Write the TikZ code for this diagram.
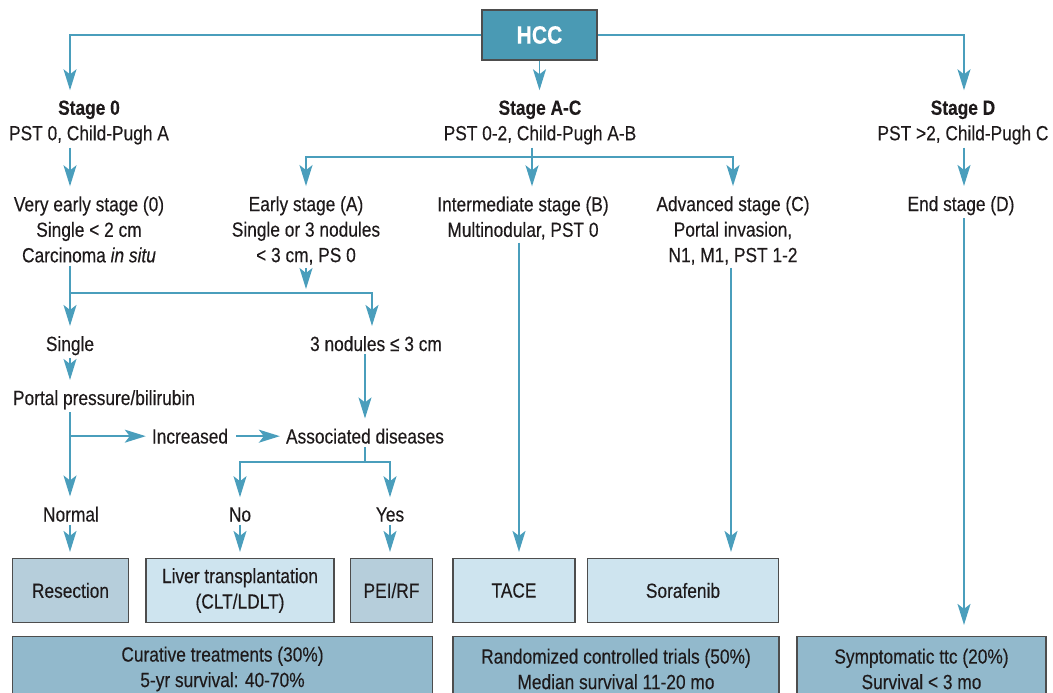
\documentclass[tikz,border=0pt]{standalone}
\usepackage{fontspec}
\setmainfont{Liberation Sans}[FakeStretch=0.845,FakeBold=0.25]
\usetikzlibrary{arrows.meta,calc}
\definecolor{arrc}{HTML}{4A9EBC}
\definecolor{hccfill}{HTML}{4A9AB4}
\definecolor{midfill}{HTML}{B6CEDB}
\definecolor{lightfill}{HTML}{CEE4EF}
\definecolor{botfill}{HTML}{92B9CC}
\definecolor{bord}{HTML}{4D4D4D}
\definecolor{txtc}{HTML}{1E1A1B}
\begin{document}
\begin{tikzpicture}[x=1pt,y=-1pt,
  font=\fontsize{20.5}{25.5}\selectfont,
  txt/.style={text=txtc, align=center, inner sep=3pt},
  tbox/.style={draw=bord, line width=1.2pt, text=txtc, align=center, inner sep=0pt, minimum height=64pt},
  conn/.style={draw=arrc, line width=1.6pt},
  arr/.style={conn, -{Stealth[length=21pt,width=13pt,inset=5pt]}},
  arrt/.style={arr, shorten >=7pt},
  arrb/.style={arr, shorten >=6pt},
]
\useasboundingbox (0,0) rectangle (1053,693);

% top node
\node[draw=bord, fill=hccfill, line width=1.2pt, minimum width=115pt, minimum height=50pt,
      text=white, font=\fontsize{25}{27}\selectfont\bfseries] (hcc) at (539.5,35) {HCC};

% stages
\node[txt] (stage0) at (89,122.5) {\textbf{Stage 0}\\PST 0, Child-Pugh A};
\node[txt] (stageAC) at (540,122.5) {\textbf{Stage A-C}\\PST 0-2, Child-Pugh A-B};
\node[txt] (stageD) at (963,122.5) {\textbf{Stage D}\\PST >2, Child-Pugh C};

\node[txt] (vearly) at (89,229.5) {Very early stage (0)\\Single < 2 cm\\Carcinoma \textit{in situ}};
\node[txt] (early) at (306,230.5) {Early stage (A)\\Single or 3 nodules\\< 3 cm, PS 0};
\node[txt] (inter) at (523,218) {Intermediate stage (B)\\Multinodular, PST 0};
\node[txt] (adv) at (733,230.5) {Advanced stage (C)\\Portal invasion,\\N1, M1, PST 1-2};
\node[txt, anchor=base] (endD) at (961,211) {End stage (D)};

\node[txt, anchor=base] (single) at (70,351) {Single};
\node[txt, anchor=base] (three) at (376,351) {3 nodules ≤ 3 cm};
\node[txt, anchor=base] (portal) at (104,405) {Portal pressure/bilirubin};
\node[txt, anchor=base] (incr) at (190,443.5) {Increased};
\node[txt, anchor=base] (assoc) at (365,443.5) {Associated diseases};
\node[txt, anchor=base] (normal) at (71,521.5) {Normal};
\node[txt, anchor=base] (no) at (240,521.5) {No};
\node[txt, anchor=base] (yes) at (390,521.5) {Yes};

% treatment boxes
\node[tbox, fill=midfill, minimum width=116pt] (res) at (70.5,590.5) {Resection};
\node[tbox, fill=lightfill, minimum width=188pt] (liver) at (240,590.5) {Liver transplantation\\(CLT/LDLT)};
\node[tbox, fill=midfill, minimum width=82pt] (pei) at (391.5,590.5) {PEI/RF};
\node[tbox, fill=lightfill, minimum width=122pt] (tace) at (514,590.5) {TACE};
\node[tbox, fill=lightfill, minimum width=191.5pt] (sora) at (683,590.5) {Sorafenib};

\node[tbox, fill=botfill, minimum width=420pt, minimum height=65pt] (cur) at (222.5,669) {Curative treatments (30\%)\\5-yr survival: 40-70\%};
\node[tbox, fill=botfill, minimum width=326pt, minimum height=65pt] (rct) at (616,669) {Randomized controlled trials (50\%)\\Median survival 11-20 mo};
\node[tbox, fill=botfill, minimum width=249pt, minimum height=65pt] (sym) at (921.5,669) {Symptomatic ttc (20\%)\\Survival < 3 mo};

% column coordinates
\coordinate (c0) at (70,0);
\coordinate (cAC) at (532,0);
\coordinate (cB) at (519,0);
\coordinate (cC) at (731,0);
\coordinate (cD) at (964,0);
\coordinate (c3) at (372,0);
\coordinate (c3b) at (365,0);
\coordinate (jAC) at (532,157);
\coordinate (j0) at (70,293);
\coordinate (jP) at (incr.west -| c0);
\coordinate (jA) at (365,462);

% connectors
\draw[arrt] (hcc.west) -| (stage0.north -| c0);
\draw[arrt] (hcc.east) -| (stageD.north -| cD);
\draw[arrt] (hcc.south) -- (hcc.south |- stageAC.north);

\draw[arrt] (stage0.south -| c0) -- (vearly.north -| c0);
\draw[arrt] (stageAC.south -| cAC) -- (inter.north -| cAC);
\draw[arrt] (jAC) -| (early.north);
\draw[arrt] (jAC) -| (adv.north);
\draw[arrt] (stageD.south -| cD) -- (endD.north -| cD);
\draw[arr, shorten >=11pt] (endD.south -| cD) -- (sym.north -| cD);
\draw[arrb] (inter.south -| cB) -- (tace.north -| cB);
\draw[arrb] (adv.south -| cC) -- (sora.north -| cC);

\draw[arrt] (vearly.south -| c0) -- (single.north -| c0);
\draw[arrt] (j0) -| (three.north -| c3);
\draw[arr, shorten >=4pt] (early.south) -- (early.south |- j0);
\draw[arrt] (single.south -| c0) -- (portal.north -| c0);
\draw[arrt] (three.south -| c3b) -- (assoc.north -| c3b);
\draw[arrt] (portal.south -| c0) -- (normal.north -| c0);
\draw[arr, shorten >=3pt] (jP) -- (incr.west);
\draw[arr, shorten <=5pt, shorten >=3pt] (incr.east) -- (incr.east -| assoc.west);
\draw[conn] (assoc.south -| c3b) -- (jA);
\draw[arrt] (jA) -| (no.north);
\draw[arrt] (jA) -| (yes.north);

\draw[arrb] (normal.south -| c0) -- (res.north -| c0);
\draw[arrb] (no.south) -- (no.south |- liver.north);
\draw[arrb] (yes.south) -- (yes.south |- pei.north);
\end{tikzpicture}
\end{document}
